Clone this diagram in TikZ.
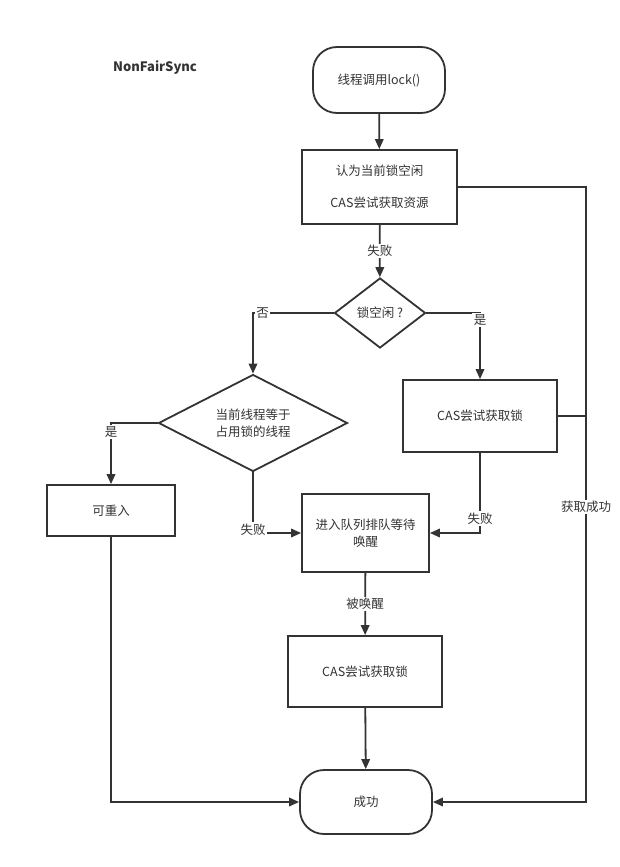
\documentclass[tikz,border=0pt]{standalone}
\usepackage{fontspec}
\setmainfont{Noto Sans CJK SC}
\usetikzlibrary{arrows.meta,positioning,shapes.geometric}
\definecolor{LineGray}{HTML}{333333}
\tikzset{box/.style={draw,rectangle,inner sep=0pt,align=center},
  term/.style={draw,rectangle,rounded corners=24pt,inner sep=0pt},
  dec/.style={draw,diamond,aspect=1.6,inner sep=0pt,align=center},
  lbl/.style={fill=white,inner sep=1.5pt}}
\begin{document}
\begin{tikzpicture}[x=1pt,y=-1pt,color=LineGray,line width=1.8pt,>={Triangle[length=10pt,width=8.5pt]},
  every node/.append style={font=\fontsize{12.5}{17}\selectfont}]
\useasboundingbox (0,0) rectangle (619,867);
\node[font=\bfseries\fontsize{13}{15}\selectfont] (title) at (155,68) {NonFairSync};
\node[term,minimum width=132pt,minimum height=66pt] (start) at (379,80) {线程调用lock()};
\node[box,minimum width=155pt,minimum height=74pt] (b1) at (379.5,187) {认为当前锁空闲\\[15pt]CAS尝试获取资源};
\node[dec,minimum width=91pt,minimum height=70pt] (d1) at (380,313) {锁空闲 ?};
\node[dec,minimum width=189pt,minimum height=97pt] (d2) at (253,423) {当前线程等于\\占用锁的线程};
\node[box,minimum width=128pt,minimum height=51pt] (re) at (111,510.5) {可重入};
\node[box,minimum width=154pt,minimum height=72pt] (b2) at (480,416) {CAS尝试获取锁};
\node[box,minimum width=127pt,minimum height=78pt] (b3) at (365.5,533) {进入队列排队等待\\唤醒};
\node[box,minimum width=154pt,minimum height=71pt] (b4) at (365,671.5) {CAS尝试获取锁};
\node[term,minimum width=132pt,minimum height=64pt] (ok) at (366,802) {成功};
\coordinate (rt) at (586,187);
\draw[->] (start) -- (b1);\draw[->] (b1) -- node[lbl]{失败} (d1);
\draw[->] (d1.west) -| node[lbl,pos=.44]{否} (d2.north);
\draw[->] (d1.east) -| node[lbl,pos=.55]{是} (b2.north);
\draw[->] (d2.west) -| node[lbl,pos=.57]{是} (re.north);
\draw[->] (d2.south) |- node[lbl,pos=.47]{失败} (b3.west);
\draw[->] (b2.south) |- node[lbl,pos=.41]{失败} (b3.east);
\draw[->] (b3) -- node[lbl]{被唤醒} (b4);\draw[->] (b4) -- (ok);
\draw[->] (re.south) |- (ok.west);
\draw[->] (b1.east) -- (rt) |- node[lbl,pos=.26]{获取成功} (ok.east);
\draw (b2.east) -- (b2.east -| rt);
\end{tikzpicture}
\end{document}
